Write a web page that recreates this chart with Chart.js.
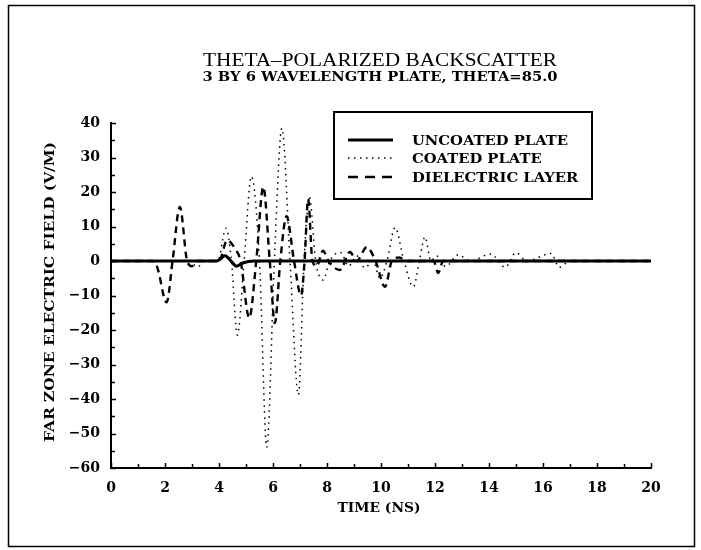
<!DOCTYPE html>
<html>
<head>
<meta charset="utf-8">
<title>Theta-polarized backscatter</title>
<script src="https://cdn.jsdelivr.net/npm/chart.js@4.4.1/dist/chart.umd.min.js"></script>
<style>
  html, body { margin: 0; padding: 0; background: #fff; }
  #wrap { width: 701px; height: 550px; }
</style>
</head>
<body>
<div id="wrap"><canvas id="chart" width="701" height="550"></canvas></div>
<script>
// ── DATA: far-zone field (V/M) against time (ns) ─────────────────────────
const uncoatedTime  = [0, 3.9, 4.05, 4.22, 4.42, 4.65, 4.9, 5.3, 20];
const uncoatedField = [0, 0, 0.6, 1.5, 0.2, -1.5, -0.5, 0, 0];

const coatedTime  = [0, 2.9, 3.2, 3.5, 3.95, 4.26, 4.46, 4.68, 4.93, 5.2, 5.5, 5.77, 6.05, 6.33,
                     6.63, 6.94, 7.15, 7.35, 7.58, 7.86, 8.1, 8.5, 8.8, 9.1, 9.4, 9.7, 9.96, 10.22,
                     10.52, 10.85, 11.2, 11.42, 11.63, 11.85, 12.05, 12.4, 12.86, 13.3, 14.07, 14.6,
                     15.0, 15.4, 16.3, 16.6, 17.0, 20];
const coatedField = [0, 0, -1.7, 0, 0, 9.5, 0, -21.5, 0, 24.5, 0, -54, 0, 38.5,
                     0, -38.8, 0, 18.5, 0, -5.5, 0, 2.5, -1.5, 1.5, -2, 0, -5, 0,
                     9.7, 0, -7.5, 0, 7, 0, 1.5, -1.6, 1.8, 0, 2, -1.8,
                     2.4, 0, 2.2, -1.8, 0, 0];

const dielectricTime  = [0, 1.5, 1.7, 2.06, 2.28, 2.55, 2.82, 3.0, 3.2, 4.0, 4.3, 4.6, 4.8, 5.12,
                         5.38, 5.64, 5.88, 6.07, 6.27, 6.5, 6.78, 7.04, 7.17, 7.3, 7.46, 7.62,
                         7.85, 8.05, 8.48, 8.85, 9.1, 9.47, 9.8, 10.15, 10.4, 10.65, 11.0, 11.95,
                         12.12, 12.3, 20];
const dielectricField = [0, 0, -1.5, -12, 0, 15.7, 0, -1.5, 0, 0, 6, 3.5, 0, -16.5,
                         0, 21.5, 0, -18, 0, 13, 0, -10, 0, 18, 0, -1.5,
                         3, 0, -2.6, 2.6, 0, 4, 0, -7.5, 0, 1, 0, 0,
                         -3.5, 0, 0];

const seriesNames = ['UNCOATED PLATE', 'COATED PLATE', 'DIELECTRIC LAYER'];

const xTicks = { min: 0, max: 20, step: 1, labelEvery: 2 };
const yTicks = { min: -60, max: 40, step: 5, labelEvery: 10 };

// ── HELPERS ──────────────────────────────────────────────────────────────
const SERIF = '"DejaVu Serif", "Liberation Serif", serif';
const TIMES = '"Liberation Serif", "DejaVu Serif", serif';

function pairs(xs, ys) {
  return xs.map((x, i) => ({ x, y: ys[i] }));
}

// the scanned plot writes negatives with a long dash
function fmtTick(v) {
  return v < 0 ? '\u2212' + Math.abs(v) : String(v);
}

// Draw text stretched horizontally to a given width, caps centred on cy
function fitText(ctx, text, cx, cy, font, width, capRatio) {
  ctx.save();
  ctx.font = font;
  const natural = ctx.measureText(text).width;
  const size = parseFloat(font.match(/(\d+(\.\d+)?)px/)[1]);
  const sx = width / natural;
  ctx.translate(cx, cy + size * capRatio / 2);
  ctx.scale(sx, 1);
  ctx.textAlign = 'center';
  ctx.textBaseline = 'alphabetic';
  ctx.fillText(text, 0, 0);
  ctx.restore();
  return sx;
}

// ── PLUGINS ──────────────────────────────────────────────────────────────
// Outer frame, titles, axis titles and the boxed legend
const figureText = {
  id: 'figureText',
  afterDraw(chart) {
    const { ctx, chartArea } = chart;
    const midX = (chartArea.left + chartArea.right) / 2;
    ctx.save();
    ctx.fillStyle = '#000';
    ctx.strokeStyle = '#000';

    // frame round the whole figure
    ctx.lineWidth = 1.5;
    ctx.strokeRect(8.5, 5.5, 686, 541);

    fitText(ctx, 'THETA\u2013POLARIZED BACKSCATTER', midX - 1, 59.5, `19px ${TIMES}`, 354, 0.662);
    fitText(ctx, '3 BY 6 WAVELENGTH PLATE, THETA=85.0', midX - 1, 77, `bold 12px ${SERIF}`, 355, 0.729);
    fitText(ctx, 'TIME (NS)', midX - 2, 507, `bold 13px ${SERIF}`, 83, 0.729);

    ctx.save();
    ctx.translate(49, 292);
    ctx.rotate(-Math.PI / 2);
    fitText(ctx, 'FAR ZONE ELECTRIC FIELD (V/M)', 0, 0, `bold 13px ${SERIF}`, 300, 0.729);
    ctx.restore();

    // legend box
    ctx.lineWidth = 2;
    ctx.strokeRect(334, 112, 258, 87);
    const rows = [140, 158, 177];
    let sx = null;
    chart.data.datasets.forEach((ds, i) => {
      const y = rows[i];
      ctx.save();
      ctx.lineWidth = ds.borderWidth;
      ctx.setLineDash(ds.legendDash || ds.borderDash || []);
      ctx.beginPath();
      ctx.moveTo(348, y);
      ctx.lineTo(393, y);
      ctx.stroke();
      ctx.restore();

      ctx.save();
      ctx.font = `bold 13px ${SERIF}`;
      const w = ctx.measureText(ds.label).width;
      if (sx === null) sx = 156 / w;
      ctx.translate(412, y + 13 * 0.729 / 2);
      ctx.scale(sx, 1);
      ctx.textAlign = 'left';
      ctx.fillText(ds.label, 0, 0);
      ctx.restore();
    });
    ctx.restore();
  }
};

// Short tick marks pointing into the plot, placed by the chart's own scales
const inwardTicks = {
  id: 'inwardTicks',
  afterDraw(chart) {
    const { ctx, chartArea, scales: { x, y } } = chart;
    ctx.save();
    ctx.strokeStyle = '#000';
    ctx.lineWidth = 1.5;
    ctx.beginPath();
    x.ticks.forEach(t => {
      const px = Math.round(x.getPixelForValue(t.value)) + 0.5;
      const len = t.value % xTicks.labelEvery === 0 ? 5 : 4;
      ctx.moveTo(px, chartArea.bottom);
      ctx.lineTo(px, chartArea.bottom - len);
    });
    y.ticks.forEach(t => {
      const py = Math.round(y.getPixelForValue(t.value)) + 0.5;
      const len = t.value % yTicks.labelEvery === 0 ? 5 : 4;
      ctx.moveTo(chartArea.left, py);
      ctx.lineTo(chartArea.left + len, py);
    });
    ctx.stroke();
    ctx.restore();
  }
};

// ── CHART ────────────────────────────────────────────────────────────────
const tickFont = { family: SERIF, weight: 'bold', size: 14 };

new Chart(document.getElementById('chart'), {
  type: 'line',
  data: {
    datasets: [
      {
        label: seriesNames[0],
        data: pairs(uncoatedTime, uncoatedField),
        borderColor: '#000',
        borderWidth: 3,
      },
      {
        label: seriesNames[1],
        data: pairs(coatedTime, coatedField),
        borderColor: '#000',
        borderWidth: 1.5,
        borderDash: [1.5, 4.5],
        legendDash: [1.5, 4.5],
      },
      {
        label: seriesNames[2],
        data: pairs(dielectricTime, dielectricField),
        borderColor: '#000',
        borderWidth: 2.4,
        borderDash: [7, 5],
        legendDash: [10, 7],
      },
    ]
  },
  options: {
    responsive: false,
    animation: false,
    events: [],
    parsing: false,
    elements: {
      point: { radius: 0 },
      line: { cubicInterpolationMode: 'monotone', fill: false },
    },
    layout: { padding: { top: 123, right: 50, left: 0, bottom: 0 } },
    plugins: {
      legend: { display: false },
      tooltip: { enabled: false },
      title: { display: false },
    },
    scales: {
      x: {
        type: 'linear',
        min: xTicks.min,
        max: xTicks.max,
        afterFit: s => { s.height = 82; },
        grid: { display: false, drawTicks: false },
        border: { display: true, color: '#000', width: 2 },
        ticks: {
          stepSize: xTicks.step,
          autoSkip: false,
          maxRotation: 0,
          padding: 12,
          color: '#000',
          font: tickFont,
          callback: v => (v % xTicks.labelEvery === 0 ? fmtTick(v) : ''),
        },
      },
      y: {
        type: 'linear',
        min: yTicks.min,
        max: yTicks.max,
        afterFit: s => { s.width = 111; },
        grid: { display: false, drawTicks: false },
        border: { display: true, color: '#000', width: 2 },
        ticks: {
          stepSize: yTicks.step,
          autoSkip: false,
          padding: 11,
          color: '#000',
          font: tickFont,
          callback: v => (v % yTicks.labelEvery === 0 ? fmtTick(v) : ''),
        },
      },
    },
  },
  plugins: [figureText, inwardTicks],
});
</script>
</body>
</html>
